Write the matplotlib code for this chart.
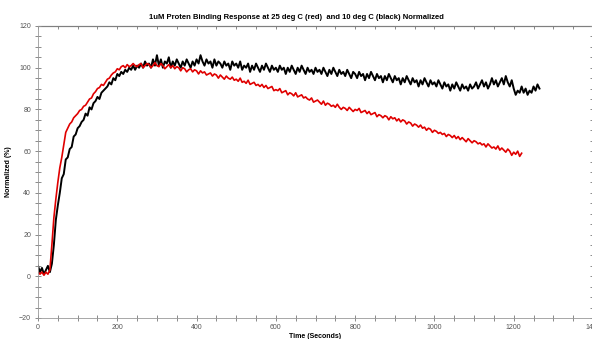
import numpy as np
import matplotlib
matplotlib.use('Agg')
import matplotlib.pyplot as plt
from matplotlib.ticker import MultipleLocator

plt.rcParams['font.family'] = ['Liberation Sans', 'DejaVu Sans']

# sampling every 5 s
t_black = np.arange(0, 1270, 5)
t_red = np.arange(0, 1225, 5)

black = [
    5, 2, 4, 1, 3, 5, 2, 6, 15, 27, 34, 40, 47, 49, 56, 57, 61, 62, 67, 68,
    71, 72, 74, 75, 78, 77, 81, 80, 83, 84, 86, 85, 88, 89, 90, 91, 93, 92, 95, 94,
    97, 96, 98, 97, 99, 98, 100, 99, 101, 99, 101, 100, 102, 100, 103, 101, 102, 100, 104, 101,
    106, 101, 104, 100, 103, 102, 105, 100, 103, 101, 104, 102, 100, 103, 101, 104, 102, 100, 103, 101,
    104, 102, 106, 103, 101, 104, 102, 103, 100, 104, 101, 103, 102, 100, 103, 101, 102, 99, 103, 101,
    102, 100, 103, 99, 101, 100, 102, 98, 101, 99, 102, 100, 98, 101, 99, 102, 100, 98, 101, 99,
    100, 98, 101, 99, 100, 97, 100, 98, 101, 99, 97, 100, 98, 101, 99, 97, 100, 98, 99, 97,
    100, 98, 99, 97, 100, 98, 96, 99, 97, 100, 98, 96, 99, 97, 98, 96, 99, 97, 95, 98,
    97, 95, 98, 96, 97, 94, 97, 95, 98, 96, 94, 97, 95, 96, 93, 96, 94, 97, 95, 93,
    96, 94, 95, 92, 95, 93, 96, 94, 92, 95, 93, 94, 91, 94, 92, 95, 93, 91, 94, 92,
    93, 91, 94, 92, 90, 93, 91, 92, 89, 92, 90, 93, 91, 89, 92, 90, 91, 89, 92, 90,
    91, 93, 90, 92, 94, 91, 93, 90, 92, 95, 92, 94, 91, 93, 95, 92, 96, 93, 91, 94,
    90, 87, 89, 88, 91, 88, 90, 87, 89, 88, 91, 89, 92, 90,
]

red = [
    2, 1, 2, 0.5, 2, 1, 3, 15, 28, 37, 45, 52, 57, 63, 69, 71, 73, 74, 76, 77,
    78, 79.5, 80, 81.5, 82, 83.5, 85, 85.5, 87.5, 88.5, 90, 90.5, 92, 91.5, 93, 94.5, 95, 96.5, 97.5, 98,
    99.5, 99, 100.5, 101, 100, 101.5, 100.5, 101, 102, 101, 100.5, 101.5, 102, 100, 101, 102, 101.5, 100, 101, 102.5,
    101, 100.5, 102, 101, 99.5, 100.5, 101.5, 100, 101, 99.5, 100.5, 100, 98.5, 100, 99.5, 98, 99, 99.5, 98, 99,
    98.5, 97, 98.5, 97.5, 98, 96.5, 97, 97.5, 96, 97, 96.5, 95, 96.5, 95.5, 94.5, 96, 95, 94.5, 95.5, 94,
    94.5, 93.5, 95, 93, 93.5, 92.5, 94, 92, 92.5, 93, 91.5, 92, 91, 92, 90.5, 91.5, 90, 90.5, 91, 89,
    89.5, 89, 90, 88, 88.5, 89, 87, 88, 87.5, 86.5, 88, 86, 86.5, 87, 85.5, 86, 85, 84.5, 85.5, 83.5,
    84, 84.5, 83.5, 82.5, 84, 82, 83, 82.5, 81.5, 82, 81, 82.5, 81, 80, 81, 80.5, 79.5, 81, 80, 79,
    80, 79.5, 80.5, 78.5, 79, 79.5, 78, 79, 77.5, 78, 78.5, 76.5, 77.5, 77, 76, 77, 76.5, 75, 76.5, 75.5,
    76, 74.5, 75.5, 74, 75, 74.5, 73, 74, 73.5, 72, 73, 72.5, 71.5, 72.5, 71, 71.5, 70, 71, 70.5, 69,
    70, 69.5, 68.5, 69, 68, 68.5, 67, 68, 67.5, 66.5, 67.5, 66, 67, 65.5, 66.5, 65.5, 64.5, 66, 65, 64,
    65, 64.5, 63.5, 64, 63, 63.5, 62, 63.5, 62.5, 61.5, 62, 61, 62.5, 60.5, 61.5, 60.5, 59.5, 61, 60, 58,
    59.5, 58.5, 60, 57.5, 59,
]

fig = plt.figure(figsize=(5.92, 3.39), dpi=100)
ax = fig.add_axes([38/592, 21/339, 555/592, 292/339])

ax.plot(t_black, black, color='black', lw=1.4)
ax.plot(t_red, red, color='#e00000', lw=1.2)

ax.set_xlim(0, 1400)
ax.set_ylim(-20, 120)
ax.xaxis.set_major_locator(MultipleLocator(200))
ax.xaxis.set_minor_locator(MultipleLocator(50))
ax.yaxis.set_major_locator(MultipleLocator(20))
ax.yaxis.set_minor_locator(MultipleLocator(5))
ax.tick_params(which='both', direction='inout', length=4, width=0.6,
               color='#777777', labelsize=5, labelcolor='#555555')
ax.tick_params(axis='x', pad=2.5)
ax.tick_params(axis='y', pad=3)

for s in ax.spines.values():
    s.set_color('#999999')
    s.set_linewidth(0.6)

top = ax.secondary_xaxis('top')
top.xaxis.set_major_locator(MultipleLocator(50))
top.tick_params(direction='in', length=2.5, width=0.6, color='#777777', labeltop=False)
right = ax.secondary_yaxis('right')
right.yaxis.set_major_locator(MultipleLocator(5))
right.tick_params(direction='in', length=2.5, width=0.6, color='#777777', labelright=False)

ax.set_xlabel('Time (Seconds)', fontsize=5, fontweight='bold', labelpad=1)
ax.set_ylabel('Normalized (%)', fontsize=5, fontweight='bold', labelpad=5)
fig.suptitle('1uM Proten Binding Response at 25 deg C (red)  and 10 deg C (black) Normalized',
             x=0.5, y=0.96, fontsize=5.5, fontweight='bold')

fig.savefig('out.png', dpi=100)
